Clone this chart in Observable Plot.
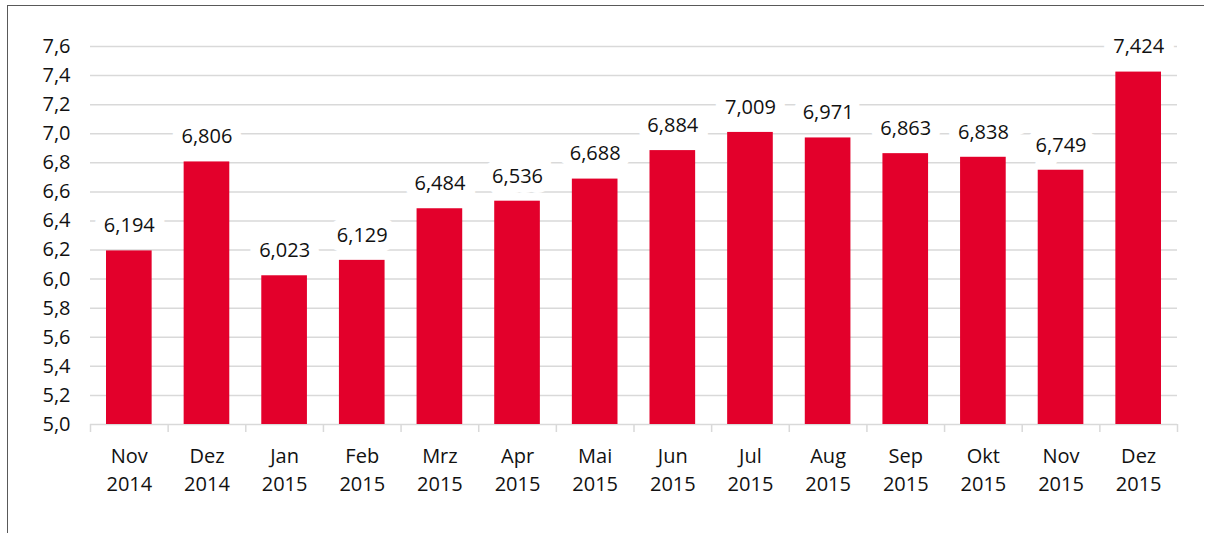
<!DOCTYPE html>
<html>
<head>
<meta charset="utf-8">
<script src="https://cdn.jsdelivr.net/npm/d3@7"></script>
<script src="https://cdn.jsdelivr.net/npm/@observablehq/plot@0.6"></script>
<style>
  html, body { margin: 0; padding: 0; background: #fff; }
  #wrap { position: relative; width: 1212px; height: 533px; overflow: hidden; }
  #frame { position: absolute; left: 7px; top: 5px; width: 1196px; height: 540px;
           border-left: 1.5px solid #595959; border-top: 1.5px solid #595959; pointer-events: none; }
  svg { font-family: "Open Sans", sans-serif; }
</style>
</head>
<body>
<div id="wrap"><div id="frame"></div></div>
<script>
const months = ["Nov", "Dez", "Jan", "Feb", "Mrz", "Apr", "Mai", "Jun", "Jul", "Aug", "Sep", "Okt", "Nov", "Dez"];
const years  = ["2014", "2014", "2015", "2015", "2015", "2015", "2015", "2015", "2015", "2015", "2015", "2015", "2015", "2015"];
const values = [6.194, 6.806, 6.023, 6.129, 6.484, 6.536, 6.688, 6.884, 7.009, 6.971, 6.863, 6.838, 6.749, 7.424];
const yTicks = [5.0, 5.2, 5.4, 5.6, 5.8, 6.0, 6.2, 6.4, 6.6, 6.8, 7.0, 7.2, 7.4, 7.6];

const cats = months.map((m, i) => `${m}\n${years[i]}`);
const data = cats.map((c, i) => ({cat: c, value: values[i]}));

const W = 1212, H = 533, ML = 90, MR = 35, MT = 46, MB = 109;
const bw = (W - ML - MR) / cats.length;
const comma = (f) => (d) => d3.format(f)(d).replace(".", ",");
const grid = "#d9d9d9";
const red = "#e3002b";

const chart = Plot.plot({
  width: W, height: H,
  marginLeft: ML, marginRight: MR, marginTop: MT, marginBottom: MB,
  style: {fontFamily: "Open Sans, sans-serif", fontSize: "20px", color: "#111"},
  x: {domain: cats, padding: 0, round: false, label: null},
  y: {domain: [5, 7.6], label: null},
  marks: [
    Plot.ruleY(yTicks, {y: d => d, stroke: grid, strokeWidth: 1.5}),
    Plot.ruleX(cats, {x: d => d, dx: -bw / 2, y1: 5, y2: 5, insetBottom: -8, stroke: grid, strokeWidth: 1.5}),
    Plot.ruleX([cats[cats.length - 1]], {x: d => d, dx: bw / 2, y1: 5, y2: 5, insetBottom: -8, stroke: grid, strokeWidth: 1.5}),
    Plot.barY(data, {x: "cat", y1: 5, y2: "value", fill: red, insetLeft: 16, insetRight: 16}),
    Plot.text(data, {x: "cat", y: "value", text: d => comma(".3f")(d.value), dy: -25,
      lineAnchor: "middle", fontSize: 20, fill: "#111", stroke: "white", strokeWidth: 20, strokeLinejoin: "miter"}),
    Plot.axisY({ticks: yTicks, tickFormat: comma(".1f"), tickSize: 0, tickPadding: 20, fontSize: 20, fill: "#111"}),
    Plot.axisX({tickSize: 0, tickPadding: 18, fontSize: 20, lineHeight: 1.42, fill: "#111"})
  ]
});
document.getElementById("wrap").prepend(chart);
</script>
</body>
</html>
